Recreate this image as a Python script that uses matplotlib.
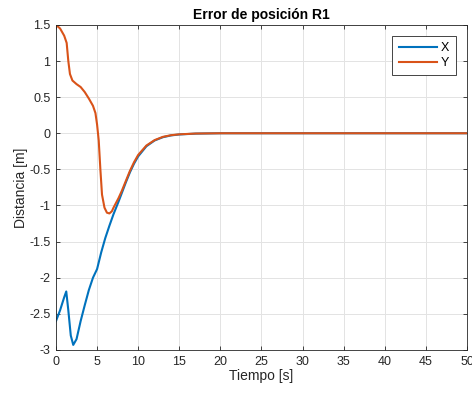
import matplotlib.pyplot as plt

plt.rcParams['font.family'] = ['Liberation Sans', 'DejaVu Sans']
plt.rcParams['axes.unicode_minus'] = False

t_x = [0, 0.5, 1.0, 1.25, 1.5, 1.8, 2.1, 2.5, 3, 3.5, 4, 4.5, 5, 5.5, 6, 6.5, 7, 7.6,
       8, 8.5, 9, 9.5, 10, 11, 12, 13, 14, 15, 17, 20, 30, 50]
err_x = [-2.6, -2.45, -2.27, -2.19, -2.45, -2.8, -2.93, -2.85, -2.6, -2.38, -2.17, -2.0,
         -1.88, -1.65, -1.45, -1.28, -1.12, -0.95, -0.83, -0.68, -0.54, -0.42, -0.32,
         -0.18, -0.1, -0.055, -0.03, -0.017, -0.005, 0, 0, 0]

t_y = [0, 0.5, 1.0, 1.3, 1.5, 1.7, 2.0, 2.5, 3, 3.5, 4, 4.5, 4.8, 5.0, 5.2, 5.4, 5.6,
       5.9, 6.2, 6.5, 6.8, 7.0, 7.6, 8, 8.5, 9, 9.5, 10, 11, 12, 13, 14, 15, 17, 20, 30, 50]
err_y = [1.5, 1.45, 1.35, 1.25, 1.0, 0.82, 0.73, 0.68, 0.64, 0.57, 0.48, 0.38, 0.28,
         0.12, -0.1, -0.5, -0.85, -1.03, -1.1, -1.11, -1.08, -1.03, -0.9, -0.8, -0.66,
         -0.52, -0.4, -0.3, -0.17, -0.095, -0.05, -0.027, -0.015, -0.004, 0, 0, 0]

fig = plt.figure(figsize=(4.72, 3.95), dpi=100)
ax = fig.add_axes([0.1186, 0.114, 0.8708, 0.823])

ax.plot(t_x, err_x, color='#0072BD', lw=1.5, label='X')
ax.plot(t_y, err_y, color='#D95319', lw=1.5, label='Y')

ax.set_xlim(0, 50)
ax.set_ylim(-3, 1.5)
ax.set_xticks(range(0, 51, 5))
ax.set_yticks([-3, -2.5, -2, -1.5, -1, -0.5, 0, 0.5, 1, 1.5])
ax.set_yticklabels(['-3', '-2.5', '-2', '-1.5', '-1', '-0.5', '0', '0.5', '1', '1.5'])
ax.grid(True, color='#e3e3e3', lw=0.7)
ax.set_axisbelow(True)
ax.tick_params(direction='in', top=True, right=True, labelsize=9,
               colors='#262626', length=3, width=0.6, pad=4)
for s in ax.spines.values():
    s.set_color('#262626')
    s.set_linewidth(0.6)

ax.set_title('Error de posición R1', fontsize=10, fontweight='bold', pad=4)
ax.set_xlabel('Tiempo [s]', fontsize=10, color='#262626', labelpad=1)
ax.set_ylabel('Distancia [m]', fontsize=10, color='#262626', labelpad=1)

leg = ax.legend(loc='upper right', fontsize=9, fancybox=False, framealpha=1,
                edgecolor='#262626', handlelength=3.1, handletextpad=0.3,
                borderaxespad=0.9, labelspacing=0.2, borderpad=0.5)
leg.get_frame().set_linewidth(0.6)

fig.savefig('out.png', dpi=100)
